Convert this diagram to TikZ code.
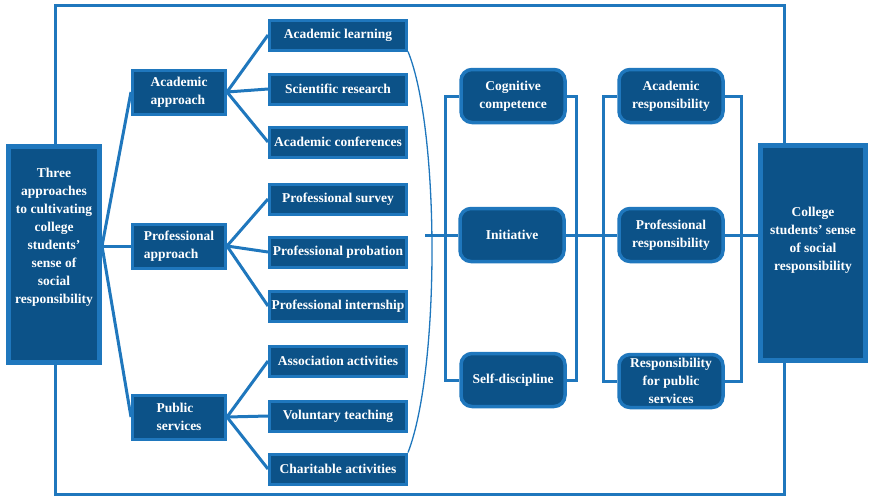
\documentclass[tikz,border=0pt]{standalone}
\usepackage{fontspec}
\setmainfont{Liberation Serif}[BoldFont={Liberation Serif Bold}]
\usetikzlibrary{calc}
\definecolor{deepblue}{RGB}{12,82,136}
\definecolor{lineblue}{RGB}{31,119,189}

\tikzset{
  box/.style={draw=lineblue, fill=deepblue, text=white, inner sep=1pt,
    font=\bfseries\fontsize{13.5}{18}\selectfont},
  leaf/.style={box, line width=3pt, minimum width=137pt, minimum height=30pt},
  way/.style={box, line width=3pt, minimum width=93pt, minimum height=44pt, align=left},
  big/.style={box, line width=5pt, align=center},
  trait/.style={box, line width=3.5pt, rounded corners=11pt, minimum width=104pt,
    minimum height=53pt, align=center},
  link/.style={lineblue, line width=3pt},
}

\begin{document}
\begin{tikzpicture}[x=1pt, y=-1pt]
  \useasboundingbox (0,0) rectangle (869,499);

  % outer frame
  \draw[link] (55,5) rectangle (784,494);

  % source and result
  \node[big, minimum width=91pt, minimum height=216pt, text depth=36pt] (three) at (54,254)
    {Three\\approaches\\to cultivating\\college\\students'\\sense of\\social\\responsibility};
  \node[big, minimum width=105pt, minimum height=215pt, text depth=28pt] (college) at (813,253)
    {College\\students' sense\\of social\\responsibility};

  % three approaches
  \node[way] (acad) at (179,92) {Academic\\approach};
  \node[way] (prof) at (179,246) {Professional\\approach};
  \node[way] (pub) at (179,417) {Public\\services};

  % activities
  \node[leaf] (learn) at (338,35) {Academic learning};
  \node[leaf] (research) at (338,89) {Scientific research};
  \node[leaf] (conf) at (338,142) {Academic conferences};
  \node[leaf] (survey) at (338,199) {Professional survey};
  \node[leaf] (probation) at (338,252) {Professional probation};
  \node[leaf] (intern) at (338,306) {Professional internship};
  \node[leaf] (assoc) at (338,361) {Association activities};
  \node[leaf] (volunt) at (338,416) {Voluntary teaching};
  \node[leaf] (charit) at (338,469) {Charitable activities};

  % qualities
  \node[trait] (cog) at (513,96) {Cognitive\\competence};
  \node[trait] (init) at (512,235) {Initiative};
  \node[trait] (self) at (513,380) {Self-discipline};

  % responsibilities
  \node[trait] (aresp) at (671,96) {Academic\\responsibility};
  \node[trait] (presp) at (671,235) {Professional\\responsibility};
  \node[trait] (pubresp) at (671,381) {Responsibility\\for public\\services};

  % left fan
  \draw[link] (three.east |- prof.west) -- (acad.west);
  \draw[link] (three.east |- prof.west) -- (prof.west);
  \draw[link] (three.east |- prof.west) -- (pub.west);

  \draw[link] (acad.east) -- (learn.west);
  \draw[link] (acad.east) -- (research.west);
  \draw[link] (acad.east) -- (conf.west);
  \draw[link] (prof.east) -- (survey.west);
  \draw[link] (prof.east) -- (probation.west);
  \draw[link] (prof.east) -- (intern.west);
  \draw[link] (pub.east) -- (assoc.west);
  \draw[link] (pub.east) -- (volunt.west);
  \draw[link] (pub.east) -- (charit.west);

  % brace over the activities
  \draw[lineblue, line width=1.3pt] (learn.south east)
    .. controls (440,130) and (440,370) .. (charit.north east);
  \coordinate (bend) at (425,235);
  \draw[link] (bend) -- (init.west);

  % brackets
  \draw[link] (cog.west) -- ++(-14,0) |- (self.west);
  \draw[link] (cog.east) -- ++(10,0) |- (self.east);
  \draw[link] (init.east) -- (presp.west);
  \draw[link] (aresp.west) -- ++(-14,0) |- (pubresp.west);
  \draw[link] (aresp.east) -- ++(17,0) |- (pubresp.east);
  \draw[link] (presp.east) -- (college.west |- presp.east);
\end{tikzpicture}
\end{document}
